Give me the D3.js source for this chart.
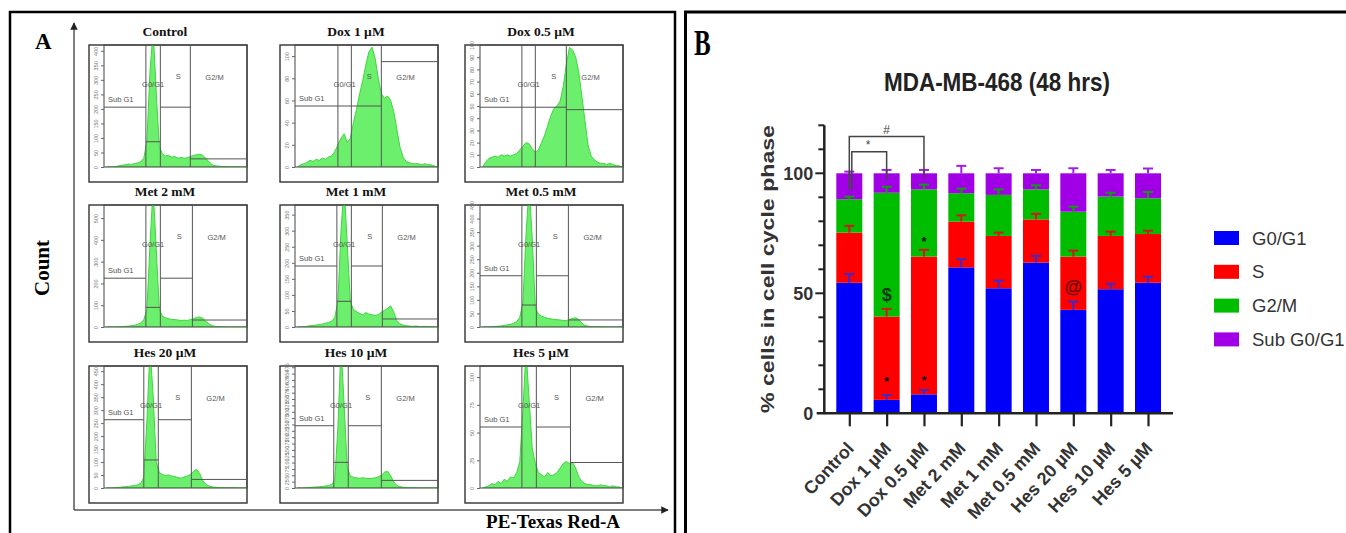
<!DOCTYPE html>
<html lang="en">
<head>
<meta charset="UTF-8">
<title>Cell cycle analysis - MDA-MB-468</title>
<script src="https://d3js.org/d3.v7.min.js"></script>
<style>
  body { margin: 0; background: #fff; }
  svg { display: block; }
  .serif { font-family: "Liberation Serif", "Times New Roman", serif; }
  .sans { font-family: "Liberation Sans", Arial, sans-serif; }
</style>
</head>
<body>
<svg id="fig" width="1346" height="533"></svg>
<script>
// ---------- Panel A data (flow cytometry histograms) ----------
const histTitles = ["Control", "Dox 1 µM", "Dox 0.5 µM", "Met 2 mM", "Met 1 mM", "Met 0.5 mM", "Hes 20 µM", "Hes 10 µM", "Hes 5 µM"];
const histYMax = [420, 110, 100, 560, 380, 450, 470, 480, 110];
const histYStep = [50, 20, 10, 100, 50, 50, 50, 25, 25];
// gate boundaries on PE-Texas Red-A: SubG1|G0G1, G0G1|S, S|G2M
const histGates = [[46, 60, 89], [47, 60, 89], [46, 59, 89], [46, 60, 91], [46, 60, 90], [46, 60, 91], [44, 58, 90], [43, 57, 89], [46, 60, 93]];
// horizontal gate levels (count): SubG1, G0/G1, S, G2/M
const histLevels = [[206, 87, 206, 28], [55, 55, 55, 95], [49, 49, 49, 47], [224, 90, 224, 32], [190, 80, 190, 25],
                    [189, 81, 189, 26], [263, 108, 263, 33], [245, 101, 245, 30], [55, 110, 55, 23]];
const histBins = [8, 11, 14, 17, 20, 23, 26, 29, 32, 35, 38, 41, 44, 47, 50, 53, 56, 59, 62, 65, 68, 71, 74, 77, 80, 83, 86, 89,
                  92, 95, 98, 101, 104, 107, 110, 113, 116, 119, 122, 125, 128, 131, 134, 137, 140, 143];
const countsControl = [0, 0, 0, 2, 4, 6, 8, 10, 9, 12, 14, 18, 30, 90, 330, 470, 260, 70, 45, 38, 40, 34, 36, 30, 33, 30, 32, 36,
                       40, 42, 44, 40, 30, 18, 8, 4, 3, 2, 2, 1, 1, 1, 1, 0, 0, 0];
const countsDox1 = [0, 2, 3, 4, 6, 5, 7, 6, 8, 7, 9, 10, 14, 20, 26, 30, 22, 26, 40, 52, 66, 78, 92, 104, 108, 98, 80, 66,
                    62, 64, 60, 50, 34, 18, 9, 5, 4, 3, 3, 3, 2, 3, 2, 2, 1, 0];
const countsDox05 = [0, 4, 7, 8, 9, 8, 10, 9, 10, 9, 10, 11, 14, 17, 20, 19, 15, 12, 14, 20, 26, 34, 42, 48, 50, 54, 66, 84,
                     98, 96, 90, 78, 58, 38, 18, 9, 6, 4, 3, 3, 2, 3, 2, 1, 1, 0];
const countsMet2 = [0, 0, 0, 0, 1, 2, 3, 4, 6, 8, 12, 18, 34, 80, 380, 640, 360, 80, 50, 42, 38, 35, 34, 32, 30, 31, 30, 34,
                    38, 44, 46, 40, 26, 14, 6, 3, 2, 1, 1, 0, 0, 0, 0, 0, 0, 0];
const countsMet1 = [0, 0, 1, 2, 4, 5, 6, 8, 9, 12, 14, 18, 30, 80, 300, 440, 260, 80, 54, 48, 42, 38, 45, 40, 38, 36, 38, 46,
                    52, 58, 66, 46, 20, 10, 6, 4, 3, 2, 3, 2, 1, 2, 1, 1, 0, 0];
const countsMet05 = [0, 0, 0, 1, 2, 3, 4, 6, 8, 10, 14, 20, 36, 90, 340, 520, 330, 70, 48, 40, 36, 32, 30, 28, 27, 26, 24, 24,
                     28, 32, 34, 28, 14, 6, 3, 2, 1, 1, 1, 0, 0, 0, 0, 0, 0, 0];
const countsHes20 = [0, 0, 0, 1, 2, 4, 5, 6, 8, 10, 12, 18, 40, 260, 540, 360, 100, 60, 52, 48, 50, 46, 44, 40, 38, 42, 46, 52,
                     64, 72, 56, 28, 14, 8, 4, 3, 2, 2, 1, 1, 1, 1, 0, 0, 0, 0];
const countsHes10 = [0, 0, 0, 1, 2, 3, 4, 5, 6, 8, 10, 14, 30, 240, 560, 330, 80, 48, 42, 40, 38, 40, 38, 37, 38, 40, 44, 50,
                     62, 66, 48, 24, 10, 5, 3, 2, 1, 1, 1, 0, 0, 0, 0, 0, 0, 0];
const countsHes5 = [0, 1, 2, 4, 3, 6, 4, 8, 6, 10, 9, 14, 24, 70, 124, 80, 36, 22, 14, 12, 10, 14, 11, 12, 14, 18, 22, 24,
                    22, 23, 18, 10, 6, 4, 3, 3, 2, 2, 3, 2, 2, 1, 2, 1, 1, 0];
const histCounts = [countsControl, countsDox1, countsDox05, countsMet2, countsMet1, countsMet05, countsHes20, countsHes10, countsHes5];

// ---------- Panel B data (stacked bars, % cells) ----------
const groups = ["Control", "Dox 1 µM", "Dox 0.5 µM", "Met 2 mM", "Met 1 mM", "Met 0.5 mM", "Hes 20 µM", "Hes 10 µM", "Hes 5 µM"];
const phaseNames = ["G0/G1", "S", "G2/M", "Sub G0/G1"];
const phaseColors = ["#0000fa", "#ff0000", "#00bd00", "#a100e6"];
const errColors = ["#3a2ad0", "#d01818", "#139a13", "#a020e0"];
const g0g1 = [54.4, 5.6, 7.9, 60.8, 52.1, 62.8, 43.1, 51.7, 54.4];
const sPhase = [20.9, 34.7, 57.4, 19.1, 21.8, 18.0, 22.2, 22.2, 20.3];
const g2m = [13.9, 51.6, 28.0, 11.8, 17.1, 12.5, 18.7, 16.4, 14.9];
const subG0G1 = [10.8, 8.1, 6.7, 8.3, 9.0, 6.7, 16.0, 9.7, 10.4];
const errG0G1 = [3.6, 2.0, 1.8, 3.4, 3.2, 2.8, 3.4, 2.2, 2.5];
const errS = [2.8, 3.2, 2.8, 2.6, 1.4, 2.3, 2.5, 1.8, 1.4];
const errG2M = [1.1, 2.5, 2.0, 1.9, 2.3, 1.7, 2.1, 1.6, 2.6];
const errSub = [0.7, 1.4, 1.4, 3.1, 2.1, 1.4, 2.1, 1.4, 2.0];
const yTicksB = [0, 50, 100];
// significance marks: [group, value, symbol, colour]
const marks = [["Dox 1 µM", 14.8, "*", "#111"], ["Dox 0.5 µM", 15.2, "*", "#111"], ["Dox 0.5 µM", 73.2, "*", "#111"],
               ["Dox 1 µM", 49.3, "$", "#123a12"], ["Hes 20 µM", 52.7, "@", "#5a0000"]];
// brackets: [from, to, top value, left foot, right foot, label, x shift]
const brackets = [["Control", "Dox 0.5 µM", 115.3, 93, 98.3, "#", 0], ["Control", "Dox 1 µM", 109, 93, 97.3, "*", 2.5]];

const svg = d3.select("#fig");
const defs = svg.append("defs");

// outer frames
svg.append("path").attr("d", "M10,540 V12 H675 V540").attr("fill", "none").attr("stroke", "#000").attr("stroke-width", 2.5);
svg.append("path").attr("d", "M685.5,540 V12 H1350").attr("fill", "none").attr("stroke", "#000").attr("stroke-width", 3);

// ================= PANEL A =================
const A = svg.append("g").attr("class", "serif");
A.append("text").attr("x", 35).attr("y", 49).attr("font-size", 23).attr("font-weight", "bold").text("A");

defs.append("marker").attr("id", "arrow").attr("viewBox", "0 0 10 10").attr("refX", 9).attr("refY", 5)
  .attr("markerWidth", 5).attr("markerHeight", 5).attr("orient", "auto")
  .append("path").attr("d", "M0,0 L10,5 L0,10 z").attr("fill", "#222");
A.append("line").attr("x1", 74).attr("y1", 510).attr("x2", 74).attr("y2", 23)
  .attr("stroke", "#555").attr("stroke-width", 1.5).attr("marker-end", "url(#arrow)");
A.append("line").attr("x1", 74).attr("y1", 510).attr("x2", 668).attr("y2", 510)
  .attr("stroke", "#555").attr("stroke-width", 1.5).attr("marker-end", "url(#arrow)");
A.append("text").attr("transform", "translate(49,268) rotate(-90)").attr("text-anchor", "middle")
  .attr("font-size", 21).attr("font-weight", "bold").text("Count");
A.append("text").attr("x", 620).attr("y", 528).attr("text-anchor", "end")
  .attr("font-size", 19).attr("font-weight", "bold").text("PE-Texas Red-A");

const colX = [89, 280, 465];
const rowY = [45, 205, 366];
const boxW = 158, boxH = 137;

histTitles.forEach((title, i) => {
  const x0 = colX[i % 3], y0 = rowY[Math.floor(i / 3)];
  const left = x0 + 15, right = x0 + boxW, top = y0, bottom = y0 + 122;
  const x = d3.scaleLinear().domain([5.5, 143.8]).range([left, right]);
  const y = d3.scaleLinear().domain([0, histYMax[i]]).range([bottom, top]);
  const g = A.append("g");

  defs.append("clipPath").attr("id", "plot" + i).append("rect")
    .attr("x", left).attr("y", top).attr("width", right - left).attr("height", bottom - top);
  defs.append("clipPath").attr("id", "box" + i).append("rect")
    .attr("x", x0).attr("y", y0).attr("width", boxW).attr("height", boxH);

  g.append("text").attr("x", x0 + 76).attr("y", y0 - 9).attr("text-anchor", "middle")
    .attr("font-size", 13.5).attr("font-weight", "bold").attr("fill", "#111").text(title);

  g.append("rect").attr("x", x0).attr("y", y0).attr("width", boxW).attr("height", boxH)
    .attr("fill", "#fff").attr("stroke", "#333").attr("stroke-width", 1.4);

  // histogram
  const area = d3.area().x((d, j) => x(histBins[j])).y0(bottom).y1(d => y(d));
  g.append("path").datum(histCounts[i]).attr("clip-path", `url(#plot${i})`).attr("d", area)
    .attr("fill", "#6cef6c").attr("stroke", "#3fd63f").attr("stroke-width", 1);

  // inner frame
  g.append("rect").attr("x", left).attr("y", top).attr("width", right - left).attr("height", bottom - top)
    .attr("fill", "none").attr("stroke", "#444").attr("stroke-width", 1);

  // gates
  const [a, b, c] = histGates[i];
  const lv = histLevels[i];
  const gateG = g.append("g").attr("stroke", "#555").attr("stroke-width", 1).attr("clip-path", `url(#plot${i})`);
  [a, b, c].forEach(v => gateG.append("line").attr("x1", x(v)).attr("x2", x(v)).attr("y1", top).attr("y2", bottom));
  const segs = [[5.5, a, lv[0]], [a, b, lv[1]], [b, c, lv[2]], [c, 143.8, lv[3]]];
  segs.forEach(s => gateG.append("line").attr("x1", x(s[0])).attr("x2", x(s[1])).attr("y1", y(s[2])).attr("y2", y(s[2])));

  const lab = g.append("g").attr("class", "sans").attr("font-size", 7.5).attr("fill", "#555");
  lab.append("text").attr("x", left + 4).attr("y", y(lv[0]) - 5).text("Sub G1");
  lab.append("text").attr("x", (x(a) + x(b)) / 2).attr("y", top + 42).attr("text-anchor", "middle").text("G0/G1");
  lab.append("text").attr("x", (x(b) + x(c)) / 2 + 3).attr("y", top + 34).attr("text-anchor", "middle").text("S");
  lab.append("text").attr("x", x(c) + 15).attr("y", top + 35).text("G2/M");

  // y axis (rotated tiny labels)
  const yAxis = d3.axisLeft(y).tickValues(d3.range(0, histYMax[i] + 1, histYStep[i])).tickSize(3).tickPadding(1);
  const ya = g.append("g").attr("class", "sans").attr("transform", `translate(${left},0)`).call(yAxis);
  ya.select(".domain").remove();
  ya.selectAll("line").attr("stroke", "#666");
  ya.selectAll("text").attr("transform", "rotate(-90)").attr("x", 0).attr("y", -6).attr("dy", 0)
    .attr("text-anchor", "middle").attr("font-size", 5.5).attr("fill", "#777");

  // x axis
  const xAxis = d3.axisBottom(x).tickValues(d3.range(10, 150, 10)).tickSize(3)
    .tickFormat(d => (d % 50 === 0 ? d : ""));
  const xa = g.append("g").attr("class", "sans").attr("transform", `translate(0,${bottom})`)
    .attr("clip-path", `url(#box${i})`).call(xAxis);
  xa.select(".domain").remove();
  xa.selectAll("line").attr("stroke", "#666");
  xa.selectAll("text").attr("font-size", 6.5).attr("fill", "#666").attr("y", 5);
  xa.append("text").attr("x", x(150) - 6).attr("y", 11.5).attr("font-size", 6.5).attr("fill", "#666").text("150");
});

// ================= PANEL B =================
const B = svg.append("g").attr("class", "sans");
B.append("text").attr("class", "serif").attr("transform", "translate(694,55) scale(1,1.45)")
  .attr("font-size", 25).attr("font-weight", "bold").text("B");

B.append("text").attr("transform", "translate(997,91) scale(1,1.12)").attr("text-anchor", "middle")
  .attr("font-size", 22.5).attr("font-weight", "bold").attr("fill", "#222").text("MDA-MB-468 (48 hrs)");

const xB = d3.scalePoint().domain(groups).range([849.3, 1148]);
const yB = d3.scaleLinear().domain([0, 120]).range([413.3, 125.3]);
const barW = 26;

const rows = groups.map((g, i) => ({ group: g, k0: g0g1[i], k1: sPhase[i], k2: g2m[i], k3: subG0G1[i] }));
const errs = [errG0G1, errS, errG2M, errSub];
const series = d3.stack().keys(["k0", "k1", "k2", "k3"])(rows);

series.forEach((s, k) => {
  B.append("g").attr("fill", phaseColors[k]).selectAll("rect").data(s).join("rect")
    .attr("x", d => xB(d.data.group) - barW / 2).attr("width", barW)
    .attr("y", d => yB(d[1])).attr("height", d => yB(d[0]) - yB(d[1]));
});
series.forEach((s, k) => {
  const eg = B.append("g").attr("stroke", errColors[k]).attr("stroke-width", 2);
  s.forEach((d, i) => {
    const cx = xB(d.data.group), t = d[1] + errs[k][i];
    eg.append("line").attr("x1", cx).attr("x2", cx).attr("y1", yB(d[1])).attr("y2", yB(t));
    eg.append("line").attr("x1", cx - 5).attr("x2", cx + 5).attr("y1", yB(t)).attr("y2", yB(t));
  });
});

// axes
const yAxB = B.append("g").attr("transform", "translate(824.3,0)");
yAxB.append("line").attr("x1", 0).attr("x2", 0).attr("y1", yB(0) + 1).attr("y2", yB(120)).attr("stroke", "#222").attr("stroke-width", 2.5);
d3.range(10, 121, 10).forEach(v => {
  const major = yTicksB.includes(v);
  yAxB.append("line").attr("x1", major ? -9 : -6).attr("x2", 0).attr("y1", yB(v)).attr("y2", yB(v))
    .attr("stroke", "#222").attr("stroke-width", 2);
});
yTicksB.forEach(v => {
  yAxB.append("text").attr("x", -11).attr("y", yB(v)).attr("dy", "0.36em").attr("text-anchor", "end")
    .attr("font-size", 18).attr("font-weight", "bold").attr("fill", "#333").text(v);
});
B.append("line").attr("x1", 816.7).attr("x2", 1173).attr("y1", yB(0)).attr("y2", yB(0)).attr("stroke", "#222").attr("stroke-width", 2.5);
const xAxB = B.append("g").attr("transform", `translate(0,${yB(0)})`)
  .call(d3.axisBottom(xB).tickSize(13).tickPadding(0));
xAxB.select(".domain").remove();
xAxB.selectAll("line").attr("stroke", "#222").attr("stroke-width", 2.2);
xAxB.selectAll("text").attr("text-anchor", "end").attr("font-size", 18).attr("font-weight", "bold").attr("fill", "#333")
  .attr("y", 0).attr("dy", 0).attr("transform", "translate(5,36) rotate(-47)");

B.append("text").attr("transform", "translate(774,269) rotate(-90)").attr("text-anchor", "middle")
  .attr("font-size", 19).attr("font-weight", "bold").attr("fill", "#333")
  .attr("textLength", 288).attr("lengthAdjust", "spacingAndGlyphs").text("% cells in cell cycle phase");

// brackets
brackets.forEach(([f, t, topV, lf, rf, label, sh]) => {
  const x1 = xB(f) + sh, x2 = xB(t);
  B.append("path").attr("d", `M${x1},${yB(lf)} V${yB(topV)} H${x2} V${yB(rf)}`)
    .attr("fill", "none").attr("stroke", "#444").attr("stroke-width", 1.5);
  B.append("text").attr("x", (xB(f) + x2) / 2).attr("y", yB(topV) - 3).attr("text-anchor", "middle")
    .attr("font-size", 12).attr("fill", "#444").text(label);
});

// significance symbols
marks.forEach(([grp, v, sym, col]) => {
  B.append("text").attr("x", xB(grp)).attr("y", yB(v)).attr("text-anchor", "middle")
    .attr("dy", sym === "*" ? "0.62em" : "0.36em").attr("font-size", sym === "*" ? 13 : 18)
    .attr("font-weight", "bold").attr("fill", col).text(sym);
});

// legend
const leg = B.append("g").attr("transform", "translate(1214,238)");
phaseNames.forEach((n, k) => {
  const yy = k * 33.8;
  leg.append("rect").attr("x", 0).attr("y", yy - 7).attr("width", 25).attr("height", 14).attr("fill", phaseColors[k]);
  leg.append("text").attr("x", 38).attr("y", yy).attr("dy", "0.36em").attr("font-size", 18.5).attr("fill", "#333").text(n);
});
</script>
</body>
</html>
